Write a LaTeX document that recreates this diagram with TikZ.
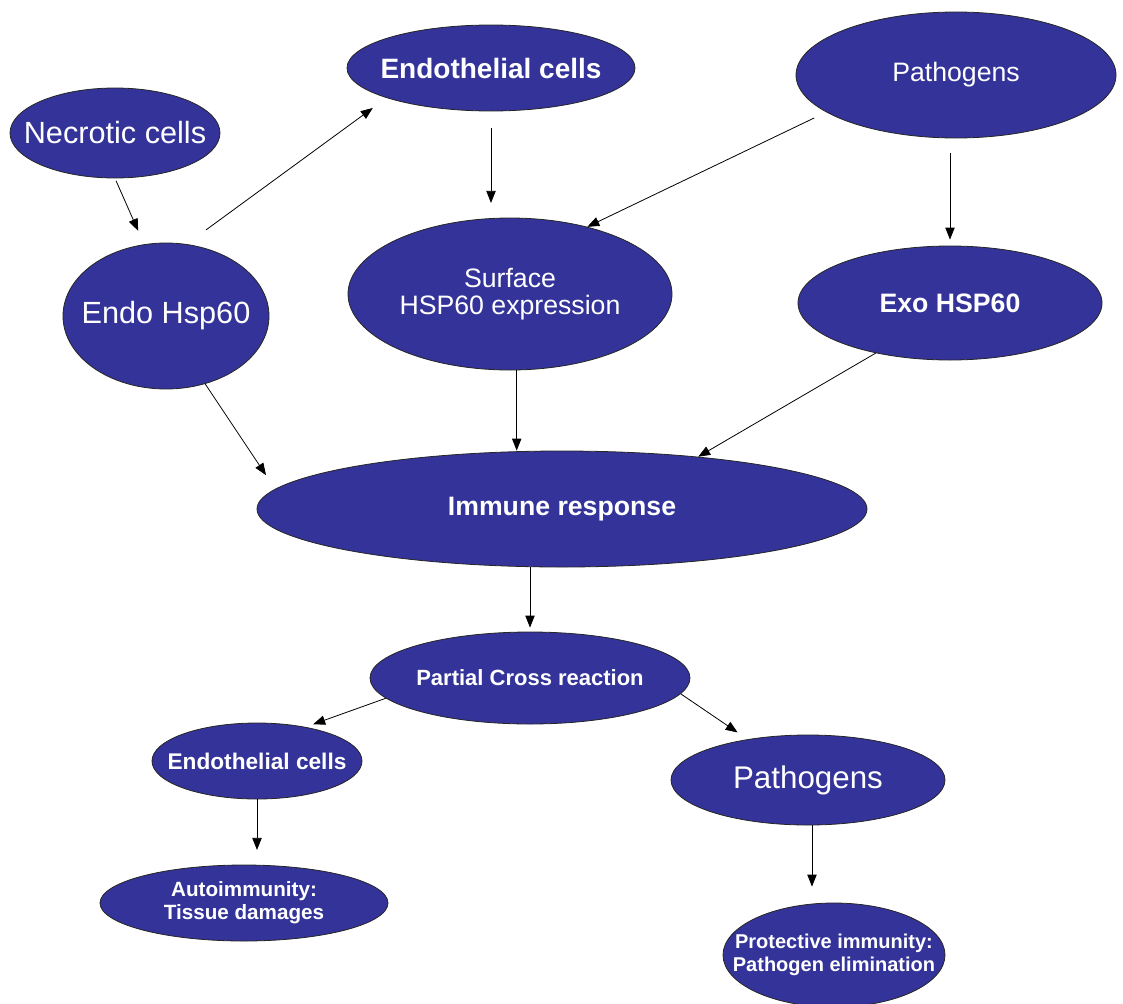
\documentclass[tikz,border=0pt]{standalone}
\usepackage{fontspec}
\setmainfont{Liberation Sans}
\usetikzlibrary{shapes.geometric,arrows.meta}
\definecolor{hspblue}{RGB}{51,51,153}
\newcommand{\celltext}[1]{\makebox[0pt]{#1}}

\begin{document}
\begin{tikzpicture}[x=0.75pt,y=0.75pt,yscale=-1,xscale=1,
  cell/.style={ellipse,draw=black!85,line width=0.6pt,fill=hspblue,text=white,inner sep=0pt,align=center},
  flow/.style={-{Triangle[length=9pt,width=7pt]},line width=0.6pt},
  txtbig/.style={font=\fontsize{23}{26}\selectfont},
  txtmid/.style={font=\fontsize{20}{20}\selectfont},
  txtbold/.style={font=\fontsize{20}{22}\selectfont\bfseries},
  txtsmall/.style={font=\fontsize{16.5}{19}\selectfont\bfseries},
  txttiny/.style={font=\fontsize{15}{17}\selectfont\bfseries}]
\useasboundingbox (0,0) rectangle (1123,1003);

%Shape: Ellipse [id:necro] 
\node[cell,txtbig,minimum width=157.5pt,minimum height=67.5pt] (necro) at (115,133) {\celltext{Necrotic cells}};
%Shape: Ellipse [id:endotop] 
\node[cell,txtbold,font=\fontsize{21}{22}\selectfont\bfseries,minimum width=216pt,minimum height=64.5pt] (endotop) at (491,68) {\celltext{Endothelial cells}};
%Shape: Ellipse [id:pathtop] 
\node[cell,txtmid,minimum width=240pt,minimum height=94.5pt] (pathtop) at (956,75) {\celltext{Pathogens}};
%Shape: Ellipse [id:endohsp] 
\node[cell,txtbig,minimum width=154.5pt,minimum height=109.5pt] (endohsp) at (166,316) {\celltext{Endo Hsp60}};
%Shape: Ellipse [id:surface] 
\node[cell,txtmid,minimum width=243pt,minimum height=114pt] (surface) at (510,294) {\celltext{Surface}\\\celltext{HSP60 expression}};
%Shape: Ellipse [id:exo] 
\node[cell,txtbold,minimum width=228pt,minimum height=85.5pt] (exo) at (950,303) {\celltext{Exo HSP60}};
%Shape: Ellipse [id:immune] 
\node[cell,txtbold,minimum width=457.5pt,minimum height=87pt] (immune) at (562,509) {\celltext{Immune response}};
%Shape: Ellipse [id:partial] 
\node[cell,txtsmall,minimum width=240pt,minimum height=69pt] (partial) at (530,678) {\celltext{Partial Cross reaction}};
%Shape: Ellipse [id:endobot] 
\node[cell,txtsmall,font=\fontsize{17}{19}\selectfont\bfseries,minimum width=157.5pt,minimum height=57pt] (endobot) at (257,761) {\celltext{Endothelial cells}};
%Shape: Ellipse [id:pathbot] 
\node[cell,txtbig,font=\fontsize{23.5}{26}\selectfont,minimum width=205.5pt,minimum height=67.5pt] (pathbot) at (808,780) {\celltext{Pathogens}};
%Shape: Ellipse [id:autoimm] 
\node[cell,txttiny,font=\fontsize{15.5}{17}\selectfont\bfseries,minimum width=216pt,minimum height=57pt] (autoimm) at (244,903) {\celltext{Autoimmunity:}\\\celltext{Tissue damages}};
%Shape: Ellipse [id:protect] 
\node[cell,txttiny,minimum width=166.5pt,minimum height=78pt] (protect) at (834,955) {\celltext{Protective immunity:}\\\celltext{Pathogen elimination}};

%Straight Lines [id:necro-endohsp] 
\draw[flow,shorten <=2pt,shorten >=11pt] (necro.-90) -- (endohsp.107);
%Straight Lines [id:endohsp-endotop] 
\draw[flow,shorten <=18pt,shorten >=12.75pt] (endohsp.74) -- (endotop.196);
%Straight Lines [id:endotop-surface] 
\draw[flow,shorten <=12.75pt,shorten >=11pt] (endotop.south) -- (endotop.south |- surface.north);
%Straight Lines [id:pathtop-surface] 
\draw[flow,shorten <=10pt] (pathtop.196) -- (surface.41);
%Straight Lines [id:pathtop-exo] 
\draw[flow,shorten <=11pt,shorten >=4.5pt] (exo.north |- pathtop.south) -- (exo.north);
%Straight Lines [id:endohsp-immune] 
\draw[flow,shorten >=12.4pt] (endohsp.-60) -- (immune.176);
%Straight Lines [id:surface-immune] 
\draw[flow] (surface.-85) -- (surface.-85 |- immune.north);
%Straight Lines [id:exo-immune] 
\draw[flow] (exo.214) -- (immune.21);
%Straight Lines [id:immune-partial] 
\draw[flow,shorten >=3pt] (partial.north |- immune.south) -- (partial.north);
%Straight Lines [id:partial-endobot] 
\draw[flow,shorten >=6pt] (partial.188) -- (endobot.35);
%Straight Lines [id:partial-pathbot] 
\draw[flow,shorten >=9pt] (partial.-6) -- (pathbot.146);
%Straight Lines [id:endobot-autoimm] 
\draw[flow,shorten >=11pt] (endobot.south) -- (endobot.south |- autoimm.north);
%Straight Lines [id:pathbot-protect] 
\draw[flow,shorten >=12pt] (pathbot.-85) -- (pathbot.-85 |- protect.north);

\end{tikzpicture}
\end{document}
